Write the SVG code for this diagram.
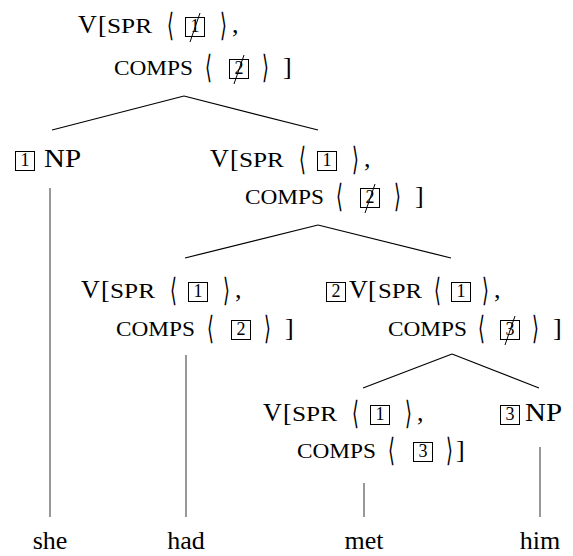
<svg xmlns="http://www.w3.org/2000/svg" width="573" height="556" viewBox="0 0 573 556">
<style>
.t{font-family:"Liberation Serif","Times New Roman",serif;font-size:26px;fill:#000}
.sc{font-family:"Liberation Serif","Times New Roman",serif;font-size:20px;fill:#000}
.a{font-family:"DejaVu Sans","DejaVu Serif",sans-serif;font-size:32px;fill:#000}
.d{font-family:"Liberation Serif","Times New Roman",serif;font-size:18px;fill:#000;text-anchor:middle}
.w{font-family:"Liberation Serif","Times New Roman",serif;font-size:26px;fill:#000;text-anchor:middle}
.bx{fill:none;stroke:#000;stroke-width:1}
.st{stroke:#000;stroke-width:1}
.e{stroke:#000;stroke-width:1.2;fill:none}
.v{stroke:#333;stroke-width:1;fill:none}
</style>

<g id="edges">
<line class="e" x1="184" y1="96" x2="52" y2="130"/>
<line class="e" x1="184" y1="96" x2="318" y2="130"/>
<line class="e" x1="318" y1="225" x2="185" y2="258"/>
<line class="e" x1="318" y1="225" x2="451" y2="258"/>
<line class="e" x1="452" y1="354" x2="363" y2="388"/>
<line class="e" x1="452" y1="354" x2="539" y2="388"/>
<line class="v" x1="50" y1="188" x2="50" y2="517"/>
<line class="v" x1="186" y1="355" x2="186" y2="517"/>
<line class="v" x1="364" y1="483" x2="364" y2="517"/>
<line class="v" x1="540" y1="447" x2="540" y2="517"/>
</g>

<g id="n-root">
<text class="t" x="78" y="33">V</text>
<text class="t" x="98" y="33">[</text>
<text class="sc" x="107" y="33" textLength="45" lengthAdjust="spacingAndGlyphs">SPR</text>
<text class="a" transform="translate(167,36) scale(0.55,1)">⟨</text>
<rect class="bx" x="185.5" y="17.5" width="19" height="19"/>
<text class="d" x="195" y="32">1</text>
<line class="st" x1="190" y1="42" x2="200" y2="13"/>
<text class="a" transform="translate(220,36) scale(0.55,1)">⟩</text>
<text class="t" x="232" y="33">,</text>
<text class="sc" x="114" y="75" textLength="79" lengthAdjust="spacingAndGlyphs">COMPS</text>
<text class="a" transform="translate(205,78) scale(0.55,1)">⟨</text>
<rect class="bx" x="229.5" y="59.5" width="19" height="19"/>
<text class="d" x="239" y="74">2</text>
<line class="st" x1="234" y1="84" x2="244" y2="55"/>
<text class="a" transform="translate(262,78) scale(0.55,1)">⟩</text>
<text class="t" x="283" y="75">]</text>
</g>

<g id="n-np1">
<rect class="bx" x="15.5" y="151.5" width="19" height="19"/>
<text class="d" x="25" y="166">1</text>
<text class="t" x="44" y="167" textLength="37" lengthAdjust="spacingAndGlyphs">NP</text>
</g>

<g id="n-vp1">
<text class="t" x="210" y="167">V</text>
<text class="t" x="230" y="167">[</text>
<text class="sc" x="239" y="167" textLength="45" lengthAdjust="spacingAndGlyphs">SPR</text>
<text class="a" transform="translate(299,170) scale(0.55,1)">⟨</text>
<rect class="bx" x="317.5" y="151.5" width="19" height="19"/>
<text class="d" x="327" y="166">1</text>
<text class="a" transform="translate(352,170) scale(0.55,1)">⟩</text>
<text class="t" x="364" y="167">,</text>
<text class="sc" x="245" y="204" textLength="79" lengthAdjust="spacingAndGlyphs">COMPS</text>
<text class="a" transform="translate(336,207) scale(0.55,1)">⟨</text>
<rect class="bx" x="360.5" y="188.5" width="19" height="19"/>
<text class="d" x="370" y="203">2</text>
<line class="st" x1="365" y1="213" x2="375" y2="184"/>
<text class="a" transform="translate(394,207) scale(0.55,1)">⟩</text>
<text class="t" x="415" y="204">]</text>
</g>

<g id="n-had">
<text class="t" x="81" y="298">V</text>
<text class="t" x="101" y="298">[</text>
<text class="sc" x="110" y="298" textLength="45" lengthAdjust="spacingAndGlyphs">SPR</text>
<text class="a" transform="translate(170,301) scale(0.55,1)">⟨</text>
<rect class="bx" x="188.5" y="282.5" width="19" height="19"/>
<text class="d" x="198" y="297">1</text>
<text class="a" transform="translate(223,301) scale(0.55,1)">⟩</text>
<text class="t" x="235" y="298">,</text>
<text class="sc" x="116" y="336" textLength="79" lengthAdjust="spacingAndGlyphs">COMPS</text>
<text class="a" transform="translate(207,339) scale(0.55,1)">⟨</text>
<rect class="bx" x="231.5" y="320.5" width="19" height="19"/>
<text class="d" x="241" y="335">2</text>
<text class="a" transform="translate(264,339) scale(0.55,1)">⟩</text>
<text class="t" x="285" y="336">]</text>
</g>

<g id="n-vp2">
<rect class="bx" x="326.5" y="282.5" width="19" height="19"/>
<text class="d" x="336" y="297">2</text>
<text class="t" x="349" y="298">V</text>
<text class="t" x="368" y="298">[</text>
<text class="sc" x="378" y="298" textLength="44" lengthAdjust="spacingAndGlyphs">SPR</text>
<text class="a" transform="translate(434,301) scale(0.55,1)">⟨</text>
<rect class="bx" x="451.5" y="282.5" width="19" height="19"/>
<text class="d" x="461" y="297">1</text>
<text class="a" transform="translate(482,301) scale(0.55,1)">⟩</text>
<text class="t" x="494" y="298">,</text>
<text class="sc" x="388" y="336" textLength="79" lengthAdjust="spacingAndGlyphs">COMPS</text>
<text class="a" transform="translate(478,339) scale(0.55,1)">⟨</text>
<rect class="bx" x="500.5" y="320.5" width="19" height="19"/>
<text class="d" x="510" y="335">3</text>
<line class="st" x1="505" y1="345" x2="515" y2="316"/>
<text class="a" transform="translate(532,339) scale(0.55,1)">⟩</text>
<text class="t" x="553" y="336">]</text>
</g>

<g id="n-met">
<text class="t" x="263" y="421">V</text>
<text class="t" x="283" y="421">[</text>
<text class="sc" x="292" y="421" textLength="45" lengthAdjust="spacingAndGlyphs">SPR</text>
<text class="a" transform="translate(352,424) scale(0.55,1)">⟨</text>
<rect class="bx" x="370.5" y="405.5" width="19" height="19"/>
<text class="d" x="380" y="420">1</text>
<text class="a" transform="translate(405,424) scale(0.55,1)">⟩</text>
<text class="t" x="417" y="421">,</text>
<text class="sc" x="297" y="458" textLength="79" lengthAdjust="spacingAndGlyphs">COMPS</text>
<text class="a" transform="translate(388,461) scale(0.55,1)">⟨</text>
<rect class="bx" x="413.5" y="442.5" width="19" height="19"/>
<text class="d" x="423" y="457">3</text>
<text class="a" transform="translate(446,461) scale(0.55,1)">⟩</text>
<text class="t" x="456" y="458">]</text>
</g>

<g id="n-np3">
<rect class="bx" x="500.5" y="405.5" width="19" height="19"/>
<text class="d" x="510" y="420">3</text>
<text class="t" x="525" y="421" textLength="37" lengthAdjust="spacingAndGlyphs">NP</text>
</g>

<g id="n-she"><text class="w" x="50" y="549">she</text></g>
<g id="n-had-w"><text class="w" x="186" y="549">had</text></g>
<g id="n-met-w"><text class="w" x="364" y="549">met</text></g>
<g id="n-him"><text class="w" x="540" y="549">him</text></g>
</svg>
